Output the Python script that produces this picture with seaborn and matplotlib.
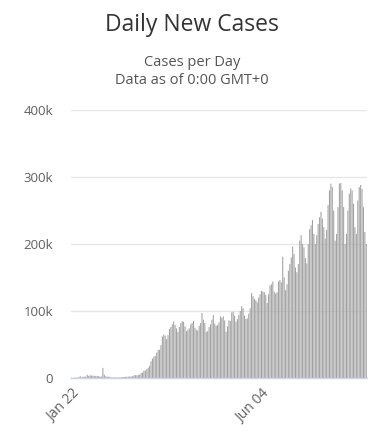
import pandas as pd
import matplotlib
matplotlib.use("Agg")
import matplotlib.pyplot as plt
import seaborn as sns

# daily new cases (thousands), one row per week starting on a Wednesday
cases_k = [
    0.6, 0.1, 0.3, 0.5, 0.7, 0.8, 2.7,        # Jan 22 - Jan 28
    0.6, 2.1, 1.7, 2.1, 4.7, 3.1, 4.0,        # Jan 29 - Feb 04
    3.7, 3.2, 3.4, 2.7, 3.1, 2.6, 2.1,        # Feb 05 - Feb 11
    2.1, 15.1, 5.1, 2.6, 2.0, 1.9, 1.7,       # Feb 12 - Feb 18
    0.5, 0.6, 1.0, 1.0, 0.6, 0.8, 1.0,        # Feb 19 - Feb 25
    1.0, 1.3, 1.5, 1.7, 1.8, 1.9, 2.4,        # Feb 26 - Mar 03
    2.2, 2.8, 4.0, 4.3, 4.0, 4.5, 5.0,        # Mar 04 - Mar 10
    7.4, 7.9, 10.9, 11.0, 13.5, 15.4, 18.4,   # Mar 11 - Mar 17
    25, 29, 32, 33, 38, 42, 42,               # Mar 18 - Mar 24
    49, 62, 65, 63, 58, 64, 73,               # Mar 25 - Mar 31
    76, 80, 84, 79, 74, 69, 76,               # Apr 01 - Apr 07
    82, 85, 84, 77, 70, 72, 74,               # Apr 08 - Apr 14
    80, 82, 85, 75, 72, 71, 78,               # Apr 15 - Apr 21
    82, 97, 87, 82, 69, 70, 76,               # Apr 22 - Apr 28
    80, 87, 94, 81, 78, 79, 83,               # Apr 29 - May 05
    92, 90, 92, 86, 69, 77, 86,               # May 06 - May 12
    85, 98, 99, 93, 84, 88, 94,               # May 13 - May 19
    100, 107, 104, 93, 88, 89, 96,            # May 20 - May 26
    104, 127, 122, 118, 116, 113, 120,        # May 27 - Jun 02
    125, 130, 129, 128, 124, 112, 125,        # Jun 03 - Jun 09
    138, 140, 144, 129, 126, 128, 144,        # Jun 10 - Jun 16
    146, 143, 181, 150, 131, 140, 160,        # Jun 17 - Jun 23
    170, 180, 196, 185, 165, 158, 170,        # Jun 24 - Jun 30
    205, 213, 200, 195, 179, 171, 200,        # Jul 01 - Jul 07
    222, 228, 236, 215, 200, 213, 230,        # Jul 08 - Jul 14
    240, 248, 238, 225, 208, 221, 258,        # Jul 15 - Jul 21
    280, 290, 285, 250, 205, 215, 255,        # Jul 22 - Jul 28
    290, 291, 280, 255, 200, 215, 250,        # Jul 29 - Aug 04
    275, 283, 280, 260, 225, 215, 265,        # Aug 05 - Aug 11
    285, 288, 282, 255, 218, 200,             # Aug 12 - Aug 17
]
days = pd.date_range("2020-01-22", periods=len(cases_k)).strftime("%b %d").tolist()
tick_days = ["Jan 22", "Jun 04"]
y_ticks = [0, 100, 200, 300, 400]

df = pd.DataFrame({"day": days, "cases": cases_k})

sns.set_style("white")
plt.rcParams["font.family"] = ["Open Sans", "DejaVu Sans"]

W, H = 381, 446
fig = plt.figure(figsize=(W / 100, H / 100), dpi=100)
ax = fig.add_axes([71 / W, 1 - 378 / H, 296 / W, 268 / H])

sns.barplot(data=df, x="day", y="cases", order=days, color="#a2a2a2",
            saturation=1, width=0.75, linewidth=0, ax=ax, zorder=2)
# thin bars: keep them from snapping to zero width
for p in ax.patches:
    p.set_snap(False)

ax.set_ylim(0, 400)
ax.set_yticks(y_ticks)
ax.set_yticklabels([f"{v}k" if v else "0" for v in y_ticks])
ax.yaxis.grid(True, color="#e6e6e6", linewidth=1, zorder=0)
ax.set_axisbelow(True)

ax.set_xticks([days.index(d) for d in tick_days])
ax.set_xticklabels(tick_days, rotation=45, ha="right", va="top",
                   rotation_mode="anchor")
ax.set_xlim(-0.5, len(days) - 0.5)
ax.set_xlabel("")
ax.set_ylabel("")

ax.tick_params(axis="y", length=0, pad=13, labelsize=9.5, labelcolor="#606060")
ax.tick_params(axis="x", length=0, pad=6, labelsize=10, labelcolor="#606060")

for s in ["top", "right", "left"]:
    ax.spines[s].set_visible(False)
ax.spines["bottom"].set_color("#ccd6eb")
ax.spines["bottom"].set_linewidth(1)

fig.text(192 / W, 1 - 25 / H, "Daily New Cases", ha="center", va="center",
         fontsize=16.5, color="#333333")
fig.text(192 / W, 1 - 62 / H, "Cases per Day", ha="center", va="center",
         fontsize=10.5, color="#555555")
fig.text(192 / W, 1 - 81 / H, "Data as of 0:00 GMT+0", ha="center", va="center",
         fontsize=10.5, color="#555555")

fig.savefig("out.png", dpi=100)
